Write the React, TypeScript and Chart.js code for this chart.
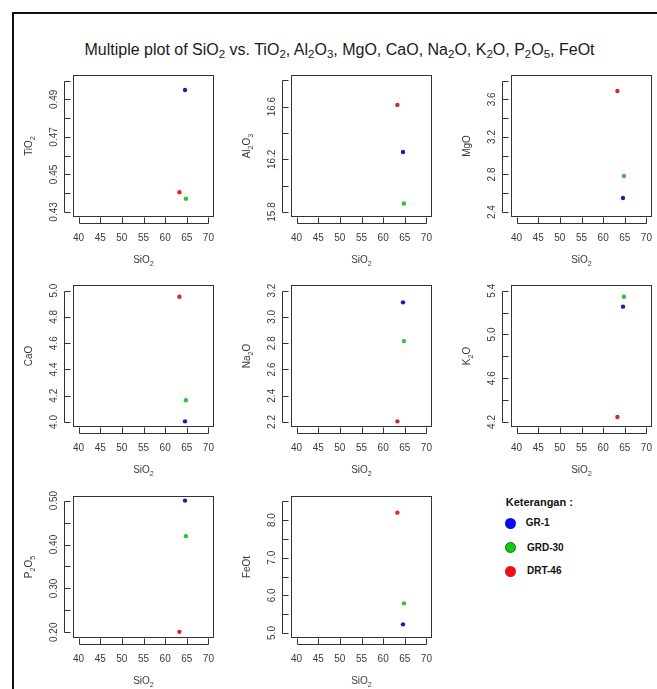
import React, { useEffect, useRef } from 'react';
import { Chart, registerables } from 'chart.js';

Chart.register(...registerables);

// ---------------- data ----------------
const samples = ['GR-1', 'GRD-30', 'DRT-46'];
const pointColors = ['#1c1cb4', '#35c035', '#d42a2a'];
const legendColors = ['#0d0df0', '#14c814', '#ee1111'];

const sio2 = [64.6, 64.8, 63.3];
const tio2 = [0.495, 0.437, 0.4405];
const al2o3 = [16.255, 15.864, 16.613];
const mgo = [2.549, 2.784, 3.689];
const cao = [4.005, 4.166, 4.954];
const na2o = [3.111, 2.816, 2.205];
const k2o = [5.254, 5.345, 4.246];
const p2o5 = [0.5, 0.419, 0.201];
const feot = [5.229, 5.788, 8.197];

const xTicks = [40, 45, 50, 55, 60, 65, 70];
const xTickLabels = ['40', '45', '50', '55', '60', '65', '70'];

const tio2Ticks = [0.43, 0.44, 0.45, 0.46, 0.47, 0.48, 0.49, 0.5];
const tio2Labels = ['0.43', '0.45', '0.47', '0.49'];
const al2o3Ticks = [15.8, 16.0, 16.2, 16.4, 16.6, 16.8];
const al2o3Labels = ['15.8', '16.2', '16.6'];
const mgoTicks = [2.4, 2.6, 2.8, 3.0, 3.2, 3.4, 3.6, 3.8];
const mgoLabels = ['2.4', '2.8', '3.2', '3.6'];
const caoTicks = [4.0, 4.2, 4.4, 4.6, 4.8, 5.0];
const caoLabels = ['4.0', '4.2', '4.4', '4.6', '4.8', '5.0'];
const na2oTicks = [2.2, 2.4, 2.6, 2.8, 3.0, 3.2];
const na2oLabels = ['2.2', '2.4', '2.6', '2.8', '3.0', '3.2'];
const k2oTicks = [4.2, 4.4, 4.6, 4.8, 5.0, 5.2, 5.4];
const k2oLabels = ['4.2', '4.6', '5.0', '5.4'];
const p2o5Ticks = [0.2, 0.25, 0.3, 0.35, 0.4, 0.45, 0.5];
const p2o5Labels = ['0.20', '0.30', '0.40', '0.50'];
const feotTicks = [5.0, 5.5, 6.0, 6.5, 7.0, 7.5, 8.0, 8.5];
const feotLabels = ['5.0', '6.0', '7.0', '8.0'];

const xTitle = 'SiO_2';

const panels = [
  { title: 'TiO_2', values: tio2, ticks: tio2Ticks, labels: tio2Labels, min: 0.4273, max: 0.503, col: 0, row: 0 },
  { title: 'Al_2O_3', values: al2o3, ticks: al2o3Ticks, labels: al2o3Labels, min: 15.762, max: 16.84, col: 1, row: 0 },
  { title: 'MgO', values: mgo, ticks: mgoTicks, labels: mgoLabels, min: 2.347, max: 3.86, col: 2, row: 0 },
  { title: 'CaO', values: cao, ticks: caoTicks, labels: caoLabels, min: 3.962, max: 5.043, col: 0, row: 1 },
  { title: 'Na_2O', values: na2o, ticks: na2oTicks, labels: na2oLabels, min: 2.162, max: 3.243, col: 1, row: 1 },
  { title: 'K_2O', values: k2o, ticks: k2oTicks, labels: k2oLabels, min: 4.154, max: 5.452, col: 2, row: 1 },
  { title: 'P_2O_5', values: p2o5, ticks: p2o5Ticks, labels: p2o5Labels, min: 0.187, max: 0.5105, col: 0, row: 2 },
  { title: 'FeOt', values: feot, ticks: feotTicks, labels: feotLabels, min: 4.867, max: 8.639, col: 1, row: 2 },
];

// ---------------- layout ----------------
const COL_X = [73, 291, 511];
const ROW_Y = [75, 285, 496];
const BOX_W = 141;
const BOX_H = 142;
const PAD_L = 70;
const PAD_T = 6;
const PAD_R = 6;
const PAD_B = 56;
const X_MIN = 38.7;
const X_MAX = 71.3;

const FONT_FAMILY = '"Liberation Sans Narrow", "Arial Narrow", "Liberation Sans", Arial, sans-serif';
const TEXT_COLOR = '#3a3a3a';
const LINE_COLOR = '#333333';

function parseRich(s: string) {
  const parts: { t: string; sub: boolean }[] = [];
  let buf = '';
  for (let i = 0; i < s.length; i++) {
    if (s[i] === '_' && i + 1 < s.length) {
      if (buf) parts.push({ t: buf, sub: false });
      buf = '';
      parts.push({ t: s[i + 1], sub: true });
      i++;
    } else buf += s[i];
  }
  if (buf) parts.push({ t: buf, sub: false });
  return parts;
}

function drawRich(ctx: CanvasRenderingContext2D, s: string, x: number, y: number, size: number) {
  const parts = parseRich(s);
  const subSize = size * 0.72;
  const mainFont = `${size}px ${FONT_FAMILY}`;
  const subFont = `${subSize}px ${FONT_FAMILY}`;
  let total = 0;
  const widths = parts.map((p) => {
    ctx.font = p.sub ? subFont : mainFont;
    const w = ctx.measureText(p.t).width;
    total += w;
    return w;
  });
  let cx = x - total / 2;
  ctx.textAlign = 'left';
  ctx.textBaseline = 'alphabetic';
  const base = y + size * 0.36;
  parts.forEach((p, i) => {
    ctx.font = p.sub ? subFont : mainFont;
    ctx.fillText(p.t, cx, p.sub ? base + size * 0.3 : base);
    cx += widths[i];
  });
}

const rFramePlugin = {
  id: 'rFrame',
  afterDatasetsDraw(chart: any, _args: any, opts: any) {
    const ctx: CanvasRenderingContext2D = chart.ctx;
    const { left, top, right, bottom } = chart.chartArea;
    const xs = chart.scales.x;
    const ys = chart.scales.y;
    const p = opts.panel;
    ctx.save();
    ctx.strokeStyle = LINE_COLOR;
    ctx.lineWidth = 1;
    // box
    ctx.strokeRect(Math.round(left) + 0.5, Math.round(top) + 0.5, Math.round(right - left) - 1, Math.round(bottom - top) - 1);

    // x axis
    const axY = Math.round(bottom) + 6.5;
    ctx.beginPath();
    ctx.moveTo(Math.round(xs.getPixelForValue(xTicks[0])) + 0.5, axY);
    ctx.lineTo(Math.round(xs.getPixelForValue(xTicks[xTicks.length - 1])) + 0.5, axY);
    xTicks.forEach((v) => {
      const px = Math.round(xs.getPixelForValue(v)) + 0.5;
      ctx.moveTo(px, axY);
      ctx.lineTo(px, axY - 6);
    });
    ctx.stroke();

    // y axis
    const axX = Math.round(left) - 8.5;
    ctx.beginPath();
    ctx.moveTo(axX, Math.round(ys.getPixelForValue(p.ticks[0])) + 0.5);
    ctx.lineTo(axX, Math.round(ys.getPixelForValue(p.ticks[p.ticks.length - 1])) + 0.5);
    p.ticks.forEach((v: number) => {
      const py = Math.round(ys.getPixelForValue(v)) + 0.5;
      ctx.moveTo(axX, py);
      ctx.lineTo(axX + 6, py);
    });
    ctx.stroke();

    ctx.fillStyle = TEXT_COLOR;
    // x tick labels
    xTickLabels.forEach((lab) => {
      drawRich(ctx, lab, xs.getPixelForValue(Number(lab)), bottom + 20, 10);
    });
    // y tick labels (rotated)
    p.labels.forEach((lab: string) => {
      ctx.save();
      ctx.translate(left - 20, ys.getPixelForValue(Number(lab)));
      ctx.rotate(-Math.PI / 2);
      drawRich(ctx, lab, 0, 0, 10);
      ctx.restore();
    });
    // axis titles
    drawRich(ctx, xTitle, (left + right) / 2, bottom + 42, 10);
    ctx.save();
    ctx.translate(left - 45, (top + bottom) / 2);
    ctx.rotate(-Math.PI / 2);
    drawRich(ctx, p.title, 0, 0, 10);
    ctx.restore();
    ctx.restore();
  },
};

function Panel({ panel }: { panel: any }) {
  const ref = useRef<HTMLCanvasElement | null>(null);
  const w = BOX_W + PAD_L + PAD_R;
  const h = BOX_H + PAD_T + PAD_B;
  useEffect(() => {
    if (!ref.current) return;
    const chart = new Chart(ref.current, {
      type: 'scatter',
      data: {
        datasets: [
          {
            data: sio2.map((x, i) => ({ x, y: panel.values[i] })),
            pointBackgroundColor: pointColors,
            pointBorderWidth: 0,
            pointRadius: 2.2,
            clip: false as any,
          },
        ],
      },
      options: {
        animation: false,
        responsive: false,
        events: [],
        layout: { padding: { left: PAD_L, top: PAD_T, right: PAD_R, bottom: PAD_B } },
        scales: {
          x: { type: 'linear', min: X_MIN, max: X_MAX, display: false },
          y: { type: 'linear', min: panel.min, max: panel.max, display: false },
        },
        plugins: {
          legend: { display: false },
          tooltip: { enabled: false },
          rFrame: { panel },
        } as any,
      },
      plugins: [rFramePlugin],
    });
    return () => chart.destroy();
  }, [panel]);
  return (
    <canvas
      ref={ref}
      width={w}
      height={h}
      style={{
        position: 'absolute',
        left: COL_X[panel.col] - PAD_L,
        top: ROW_Y[panel.row] - PAD_T,
        width: w,
        height: h,
      }}
    />
  );
}

function Sub({ children }: { children: React.ReactNode }) {
  return <span style={{ fontSize: '0.72em', position: 'relative', top: '0.3em' }}>{children}</span>;
}

export default function App() {
  return (
    <div
      style={{
        position: 'absolute',
        left: 0,
        top: 0,
        width: 657,
        height: 689,
        overflow: 'hidden',
        background: '#ffffff',
      }}
    >
      <div
        style={{
          position: 'absolute',
          left: 12,
          top: 12,
          width: 700,
          height: 700,
          borderLeft: '2px solid #111',
          borderTop: '2px solid #111',
        }}
      />
      <div
        style={{
          position: 'absolute',
          left: 339.5,
          top: 41.5,
          transform: 'translateX(-50%)',
          whiteSpace: 'nowrap',
          fontFamily: FONT_FAMILY,
          fontSize: 16,
          lineHeight: '16px',
          color: '#1a1a1a',
        }}
      >
        Multiple plot of SiO<Sub>2</Sub> vs. TiO<Sub>2</Sub>, Al<Sub>2</Sub>O<Sub>3</Sub>, MgO, CaO, Na<Sub>2</Sub>O,
        K<Sub>2</Sub>O, P<Sub>2</Sub>O<Sub>5</Sub>, FeOt
      </div>
      {panels.map((p, i) => (
        <Panel key={i} panel={p} />
      ))}
      <div
        style={{
          position: 'absolute',
          left: 505.7,
          top: 496,
          fontFamily: '"Liberation Sans", Arial, sans-serif',
          fontWeight: 'bold',
          fontSize: 11,
          lineHeight: '12px',
          whiteSpace: 'nowrap',
          color: '#111',
        }}
      >
        Keterangan :
      </div>
      {samples.map((s, i) => {
        const cy = [523.3, 547.7, 571.3][i];
        return (
          <React.Fragment key={s}>
            <div
              style={{
                position: 'absolute',
                left: 510.3 - 5.5,
                top: cy - 5.5,
                width: 11,
                height: 11,
                borderRadius: '50%',
                background: legendColors[i],
                boxSizing: 'border-box',
                border: i === 1 ? '1px solid #0a7a0a' : 'none',
              }}
            />
            <div
              style={{
                position: 'absolute',
                left: i === 0 ? 525.7 : 527,
                top: cy - 6,
                fontFamily: '"Liberation Sans", Arial, sans-serif',
                fontWeight: 'bold',
                fontSize: 10,
                lineHeight: '12px',
                whiteSpace: 'nowrap',
                color: '#111',
              }}
            >
              {s}
            </div>
          </React.Fragment>
        );
      })}
    </div>
  );
}
